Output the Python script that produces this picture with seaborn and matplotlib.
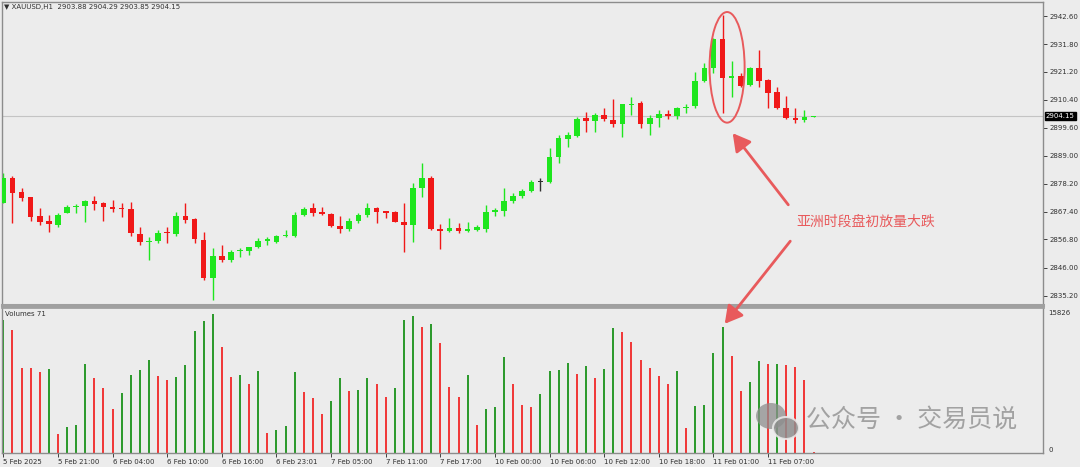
import numpy as np
import pandas as pd
import matplotlib
matplotlib.use("Agg")
import matplotlib.pyplot as plt
import matplotlib.transforms as mtransforms
from matplotlib.patches import Ellipse, FancyArrowPatch
import seaborn as sns

# XAUUSD H1 candles
opens = [2870.9, 2880.3, 2874.9, 2873.0, 2865.8, 2863.7, 2862.3, 2867.1, 2869.1, 2869.6,
         2871.7, 2870.7, 2869.4, 2868.7, 2868.4, 2858.9, 2855.9, 2856.2, 2859.8, 2858.9,
         2865.8, 2864.5, 2856.6, 2841.9, 2850.4, 2848.9, 2852.4, 2852.5, 2853.8, 2856.3,
         2855.9, 2858.1, 2858.1, 2866.2, 2868.7, 2867.2, 2866.4, 2861.9, 2860.7, 2864.0,
         2866.2, 2868.7, 2867.6, 2867.5, 2863.6, 2862.3, 2876.4, 2880.3, 2860.8, 2860.0,
         2861.1, 2860.2, 2860.4, 2860.8, 2867.5, 2867.9, 2871.7, 2873.6, 2875.5, 2879.0,
         2879.0, 2888.3, 2895.2, 2896.5, 2903.3, 2902.4, 2904.6, 2902.7, 2901.0, 2908.6,
         2909.1, 2901.0, 2903.3, 2905.0, 2904.3, 2907.1, 2908.0, 2917.6, 2922.5, 2933.8,
         2918.9, 2919.6, 2916.1, 2922.7, 2918.0, 2913.3, 2907.1, 2903.3, 2902.7, 2903.88]
highs = [2882.4, 2881.2, 2876.4, 2873.2, 2868.7, 2866.2, 2866.8, 2870.0, 2870.4, 2871.9,
         2873.5, 2871.3, 2871.9, 2870.7, 2871.3, 2861.4, 2857.6, 2860.4, 2861.7, 2867.5,
         2870.7, 2864.9, 2859.8, 2853.4, 2854.7, 2852.7, 2853.4, 2854.0, 2857.2, 2857.6,
         2858.5, 2860.4, 2867.5, 2869.1, 2870.7, 2869.4, 2866.8, 2865.8, 2864.9, 2866.8,
         2870.7, 2869.1, 2867.8, 2867.7, 2870.9, 2878.3, 2886.3, 2881.2, 2862.7, 2864.9,
         2863.2, 2863.6, 2862.3, 2870.0, 2868.7, 2876.4, 2874.8, 2876.0, 2879.6, 2880.3,
         2891.8, 2896.9, 2898.2, 2903.7, 2905.9, 2905.5, 2907.1, 2910.7, 2908.8, 2911.6,
         2910.0, 2904.6, 2906.5, 2906.5, 2907.5, 2908.8, 2921.2, 2924.4, 2934.0, 2943.0,
         2925.4, 2920.6, 2923.1, 2929.5, 2918.3, 2915.2, 2911.9, 2907.1, 2906.5, 2904.29]
lows = [2870.7, 2863.0, 2871.7, 2864.0, 2862.3, 2859.8, 2861.7, 2866.8, 2867.1, 2863.6,
        2868.1, 2864.0, 2867.5, 2865.5, 2858.1, 2854.7, 2848.9, 2855.3, 2855.3, 2858.1,
        2863.2, 2855.3, 2841.2, 2833.5, 2848.2, 2848.2, 2849.9, 2850.8, 2853.4, 2854.7,
        2855.3, 2857.6, 2857.6, 2865.8, 2865.8, 2866.2, 2861.7, 2859.1, 2860.2, 2863.2,
        2865.5, 2863.0, 2864.9, 2863.4, 2852.1, 2855.9, 2873.2, 2860.4, 2853.0, 2859.8,
        2859.1, 2859.8, 2860.0, 2859.8, 2865.9, 2865.8, 2870.9, 2872.6, 2875.1, 2875.5,
        2878.6, 2886.0, 2892.4, 2896.3, 2898.2, 2898.2, 2902.4, 2899.8, 2896.3, 2904.6,
        2899.5, 2896.9, 2900.1, 2902.9, 2902.9, 2905.2, 2907.1, 2917.4, 2920.6, 2905.2,
        2911.4, 2915.5, 2915.7, 2915.2, 2907.1, 2906.8, 2903.0, 2901.6, 2902.0, 2903.85]
closes = [2880.3, 2874.8, 2872.6, 2865.5, 2863.6, 2862.7, 2866.2, 2869.4, 2869.6, 2871.6,
          2870.4, 2869.1, 2868.4, 2868.4, 2859.1, 2855.7, 2856.3, 2859.4, 2859.1, 2865.8,
          2864.3, 2856.8, 2841.9, 2850.4, 2848.9, 2852.1, 2852.7, 2853.8, 2856.3, 2856.8,
          2858.1, 2858.5, 2866.2, 2868.6, 2867.1, 2866.4, 2861.9, 2860.7, 2864.0, 2866.2,
          2868.7, 2867.5, 2867.1, 2863.6, 2862.3, 2876.4, 2880.3, 2860.7, 2860.2, 2861.3,
          2860.0, 2860.7, 2861.7, 2867.5, 2868.1, 2871.7, 2873.6, 2875.4, 2879.0, 2879.0,
          2888.3, 2895.6, 2896.9, 2903.0, 2902.4, 2904.6, 2902.9, 2901.0, 2908.7, 2908.8,
          2901.0, 2903.3, 2905.0, 2904.2, 2907.1, 2907.5, 2917.6, 2922.5, 2933.8, 2918.9,
          2919.6, 2915.8, 2922.7, 2917.6, 2913.2, 2907.1, 2903.3, 2902.7, 2903.9, 2904.15]
volumes = [15030, 13813, 9564, 9540, 9071, 9450, 2125, 2960, 3112, 10019,
           8425, 7287, 4971, 6793, 8804, 9298, 10437, 8653, 8197, 8539,
           9868, 13700, 14877, 15636, 11992, 8615, 8842, 7742, 9185, 2277,
           2580, 3036, 9071, 6869, 6224, 4364, 5844, 8425, 6983, 7059,
           8425, 7818, 6262, 7325, 15030, 15447, 14154, 14496, 12447, 7477,
           6300, 8804, 3188, 5010, 5238, 10778, 7818, 5352, 5238, 6641,
           9223, 9298, 10133, 8880, 9792, 8501, 9488, 14078, 13624, 12561,
           10437, 9564, 8691, 7742, 9223, 2770, 5276, 5428, 11309, 14154,
           10931, 6983, 8046, 10323, 10019, 10050, 9943, 9640, 8197, 71]

price_ticks = [2942.60, 2931.80, 2921.20, 2910.40, 2899.60, 2889.00,
               2878.20, 2867.40, 2856.80, 2846.00, 2835.20]
last_price = 2904.15
date_ticks = [0, 6, 12, 18, 24, 30, 36, 42, 48, 54, 60, 66, 72, 78, 84]
date_labels = ["5 Feb 2025", "5 Feb 21:00", "6 Feb 04:00", "6 Feb 10:00", "6 Feb 16:00",
               "6 Feb 23:01", "7 Feb 05:00", "7 Feb 11:00", "7 Feb 17:00", "10 Feb 00:00",
               "10 Feb 06:00", "10 Feb 12:00", "10 Feb 18:00", "11 Feb 01:00", "11 Feb 07:00"]

df = pd.DataFrame({"o": opens, "h": highs, "l": lows, "c": closes, "v": volumes})
df["i"] = np.arange(len(df))
df["vdir"] = np.where(df["v"] > df["v"].shift(1), "up", "down")
df.loc[0, "vdir"] = "up"

sns.set_style("white")
plt.rcParams["font.family"] = ["DejaVu Sans", "Noto Sans CJK SC"]

bg = "#ECECEC"
frame = "#8C8C8C"
W, H = 1080, 467
XMIN, XMAX = -0.2, 114.2
fig = plt.figure(figsize=(W / 100, H / 100), dpi=100, facecolor=bg)
ax = fig.add_axes([1.5 / W, 1 - 305 / H, 1041.5 / W, 303 / H], facecolor=bg)
axv = fig.add_axes([1.5 / W, 1 - 453 / H, 1041.5 / W, 146 / H], facecolor=bg)

# candles
bull, bear, doji = "#1EE61E", "#F01818", "#303030"
col = np.where(df["c"] > df["o"], bull, np.where(df["c"] < df["o"], bear, doji))
ax.vlines(df["i"], df["l"], df["h"], colors=col, lw=1, zorder=2)
body = (df["c"] - df["o"]).abs().clip(lower=0.35)
ax.bar(df["i"], body, bottom=np.minimum(df["o"], df["c"]), width=0.62,
       color=col, lw=0, zorder=3)
ax.axhline(last_price, color="#C4C4C4", lw=0.8, zorder=1)

ax.set_xlim(XMIN, XMAX)
ax.set_ylim(2831.6, 2948.0)
ax.set_xticks([])
ax.yaxis.tick_right()
ax.set_yticks(price_ticks)
ax.set_yticklabels([f"{t:.2f}" for t in price_ticks])
ax.tick_params(axis="y", right=True, length=3, width=0.7, color="#404040",
               labelsize=5, labelcolor="#303030", pad=2)
for s in ax.spines.values():
    s.set_color(frame)
    s.set_linewidth(1)
ax.spines["bottom"].set_linewidth(2.2)
ax.spines["bottom"].set_color("#A0A0A0")

trans = mtransforms.blended_transform_factory(ax.transAxes, ax.transData)
ax.text(1.0025, last_price, f"{last_price:.2f}", transform=trans, fontsize=5,
        color="white", va="center", ha="left",
        bbox=dict(boxstyle="square,pad=0.15", fc="black", ec="black"))

# volumes
sns.barplot(data=df, x="i", y="v", hue="vdir", palette={"up": "#2E9A2E", "down": "#F03A3A"},
            native_scale=True, dodge=False, width=0.22, saturation=1, errorbar=None,
            legend=False, linewidth=0, ax=axv)
axv.set_xlim(XMIN, XMAX)
axv.set_ylim(0, 16450)
axv.set_xlabel("")
axv.set_ylabel("")
axv.set_xticks(date_ticks)
axv.set_xticklabels(date_labels, ha="left")
axv.tick_params(axis="x", bottom=True, length=3, width=0.7, color="#404040",
                labelsize=5, labelcolor="#303030", pad=1.5)
axv.yaxis.tick_right()
axv.set_yticks([15826, 0])
axv.set_yticklabels(["15826", "0"])
axv.tick_params(axis="y", right=True, length=0, labelsize=5, labelcolor="#303030", pad=4)
axv.get_yticklabels()[1].set_va("bottom")
for s in axv.spines.values():
    s.set_color(frame)
    s.set_linewidth(1)
axv.spines["top"].set_color("#A0A0A0")
axv.spines["top"].set_linewidth(2)

# header texts
fig.text(4 / W, 1 - 7 / H, "▼ XAUUSD,H1  2903.88 2904.29 2903.85 2904.15",
         fontsize=5, color="#303030", va="center", ha="left")
fig.text(5 / W, 1 - 314 / H, "Volumes 71", fontsize=5, color="#303030",
         va="center", ha="left")

# annotation: ellipse around the spike candle, arrows and note
red = "#E85A5C"
k = 79
ax.add_patch(Ellipse((k + 0.5, (df.h[k] + df.l[k]) / 2 - 1.2), 3.85, 42.5,
                     fill=False, ec=red, lw=1.4, zorder=5))


def fig_xy(x, y):
    return (x / W, 1 - y / H)


for tail, head in [((790, 207), (731, 131)), ((792, 239), (723, 326))]:
    fig.add_artist(FancyArrowPatch(fig_xy(*tail), fig_xy(*head), transform=fig.transFigure,
                                   arrowstyle="-|>,head_length=0.75,head_width=0.42",
                                   mutation_scale=14, color=red, lw=2, zorder=6))
fig.text(*fig_xy(796, 222), "亚洲时段盘初放量大跌", family=["Noto Sans CJK SC"],
         fontsize=10, color=red, va="center", ha="left")

# watermark
wm = "#8E8E8E"
fig.add_artist(Ellipse(fig_xy(771, 416), 30 / W, 26 / H, transform=fig.transFigure,
                       fc=wm, ec="none", alpha=0.75, zorder=6))
fig.add_artist(Ellipse(fig_xy(786, 428), 26 / W, 22 / H, transform=fig.transFigure,
                       fc=wm, ec=bg, lw=1.5, alpha=0.85, zorder=7))
fig.text(*fig_xy(806, 420), "公众号 · 交易员说", family=["Noto Sans CJK SC"],
         fontsize=18, color="#9A9A9A", alpha=0.9, va="center", ha="left", zorder=8)

fig.savefig("out.png", dpi=100, facecolor=bg)
